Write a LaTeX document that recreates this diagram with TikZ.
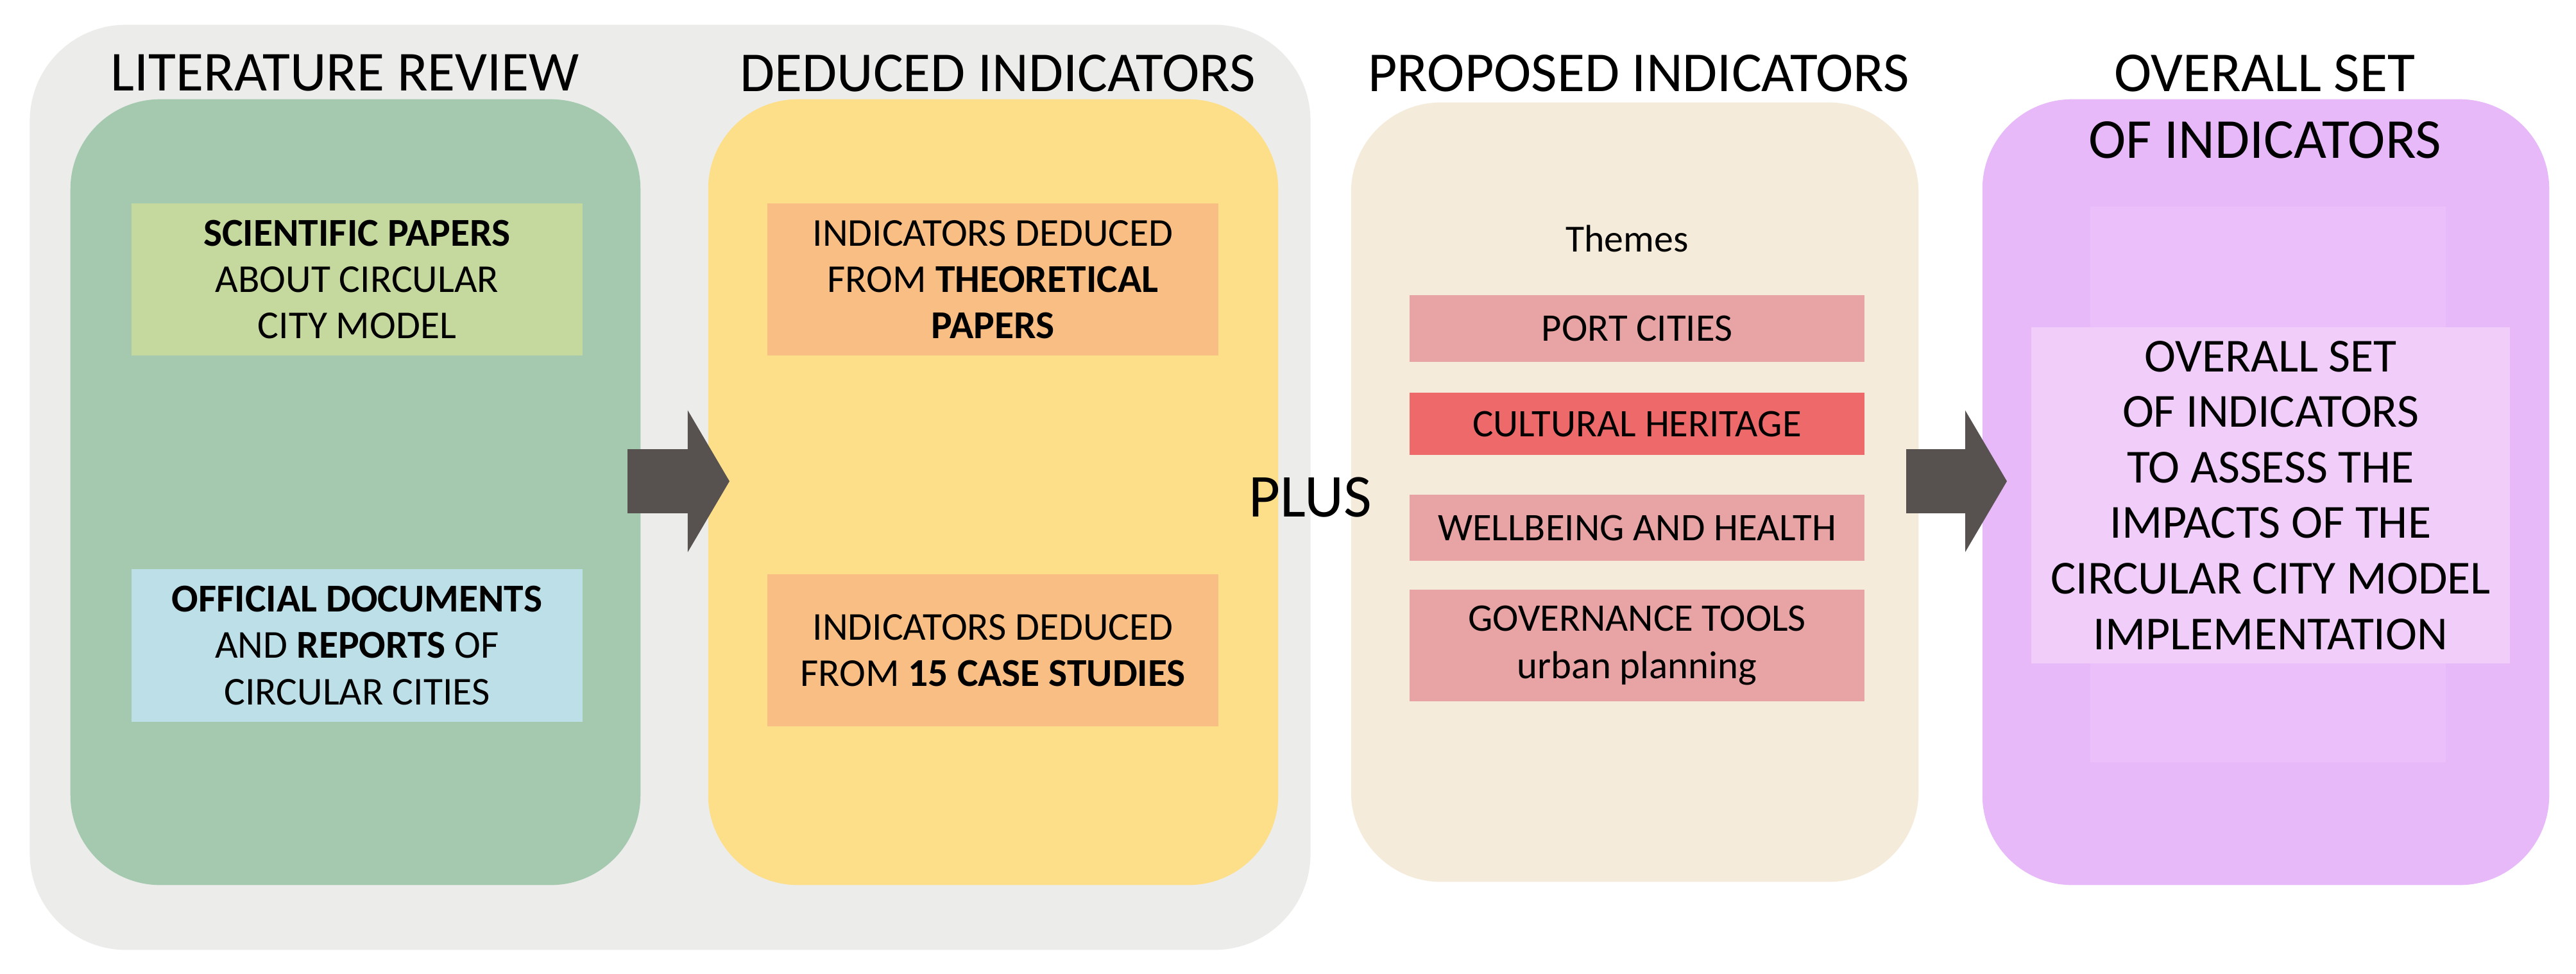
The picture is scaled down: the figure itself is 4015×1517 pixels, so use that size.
\documentclass[tikz,border=0pt]{standalone}
\usepackage{fontspec}
\setmainfont{Carlito}
\usetikzlibrary{arrows.meta}
\definecolor{greyback}{HTML}{ECECEB}
\definecolor{greenpanel}{HTML}{A4C9AF}
\definecolor{yellowpanel}{HTML}{FDDF8A}
\definecolor{beigepanel}{HTML}{F5EBDA}
\definecolor{purplepanel}{HTML}{E8B9F9}
\definecolor{purplelight}{HTML}{EABFFA}
\definecolor{scibox}{HTML}{C5D89D}
\definecolor{offbox}{HTML}{BDDFE8}
\definecolor{orangebox}{HTML}{F8BE84}
\definecolor{pinkbox}{HTML}{E8A4A4}
\definecolor{redbox}{HTML}{EE6A6A}
\definecolor{overallbox}{HTML}{F1CEFA}
\definecolor{arrowgrey}{HTML}{575150}
\tikzset{
  panel/.style={rectangle, rounded corners=1.4cm, draw=none, inner sep=0pt},
  titletext/.style={font=\fontsize{25}{30}\selectfont, inner sep=0pt, align=center, text=black},
  infobox/.style={rectangle, draw=none, inner sep=0pt, minimum width=7.03cm, minimum height=2.37cm,
    align=center, font=\fontsize{17.5}{20.5}\selectfont},
  themebox/.style={rectangle, draw=none, inner sep=0pt, minimum width=7.09cm, fill=pinkbox,
    align=center, font=\fontsize{17.3}{21}\selectfont},
  blockarrow/.style={draw=arrowgrey, line width=0.99cm, line cap=butt,
    -{Triangle[length=0.65cm,width=2.18cm]}, arrowgrey}
}
\begin{document}
\begin{tikzpicture}[x=0.01cm,y=-0.01cm]
\useasboundingbox (0,0) rectangle (4015,1517);
\fill[white] (0,0) rectangle (4015,1517);
% background grey panel
\node[panel, rounded corners=1.5cm, fill=greyback, minimum width=19.95cm, minimum height=14.41cm] (grey) at (1044.5,759.5) {};
% column panels
\node[panel, fill=greenpanel, minimum width=8.88cm, minimum height=12.24cm] (green) at (554,767) {};
\node[panel, fill=yellowpanel, minimum width=8.88cm, minimum height=12.24cm] (yellow) at (1548,767) {};
\node[panel, fill=beigepanel, minimum width=8.84cm, minimum height=12.14cm] (beige) at (2548,767) {};
\node[panel, fill=purplepanel, minimum width=8.83cm, minimum height=12.24cm] (purple) at (3531.5,767) {};
\node[rectangle, fill=purplelight, minimum width=5.54cm, minimum height=8.65cm, inner sep=0pt] (plight) at (3535,755) {};
% titles
\node[titletext] (t1) at (538,114) {LITERATURE REVIEW};
\node[titletext] (t2) at (1555,114) {DEDUCED INDICATORS};
\node[titletext] (t3) at (2554,114) {PROPOSED INDICATORS};
\node[titletext] (t4) at (3530,114) {OVERALL SET};
\node[titletext] (t4b) at (3530,218) {OF INDICATORS};
% literature review boxes
\node[infobox, fill=scibox] (sci) at (556.5,435.5) {\textbf{SCIENTIFIC PAPERS}\\ABOUT CIRCULAR\\CITY MODEL};
\node[infobox, fill=offbox, minimum height=2.38cm] (off) at (556.5,1006) {\textbf{OFFICIAL DOCUMENTS}\\AND \textbf{REPORTS} OF\\CIRCULAR CITIES};
% deduced indicators boxes
\node[infobox, fill=orangebox] (theo) at (1547.5,435.5) {INDICATORS DEDUCED\\FROM \textbf{THEORETICAL}\\\textbf{PAPERS}};
\node[infobox, fill=orangebox] (case) at (1547.5,1013.5) {INDICATORS DEDUCED\\FROM \textbf{15 CASE STUDIES}};
% plus
\node[font=\fontsize{27}{30}\selectfont, inner sep=0pt] (plus) at (2042,775) {PLUS};
% themes
\node[font=\fontsize{17}{20}\selectfont, inner sep=0pt] (themes) at (2536,372) {Themes};
\node[themebox, minimum height=1.04cm] (port) at (2551.5,512) {PORT CITIES};
\node[themebox, minimum height=0.97cm, fill=redbox] (cult) at (2551.5,660.5) {CULTURAL HERITAGE};
\node[themebox, minimum height=1.03cm] (well) at (2551.5,822.5) {WELLBEING AND HEALTH};
\node[themebox, minimum height=1.74cm] (gov) at (2551.5,1006) {GOVERNANCE TOOLS\\urban planning};
% overall box
\node[rectangle, fill=overallbox, minimum width=7.45cm, minimum height=5.24cm, inner sep=0pt,
  align=center, font=\fontsize{21}{24.6}\selectfont] (overall) at (3539,772)
  {OVERALL SET\\OF INDICATORS\\TO ASSESS THE\\IMPACTS OF THE\\CIRCULAR CITY MODEL\\IMPLEMENTATION};
% arrows
\coordinate (a1s) at (978,750);
\coordinate (a1e) at (1137,750);
\coordinate (a2s) at (2971,750);
\coordinate (a2e) at (3128,750);
\draw[blockarrow] (a1s) -- (a1e);
\draw[blockarrow] (a2s) -- (a2e);
\end{tikzpicture}
\end{document}
